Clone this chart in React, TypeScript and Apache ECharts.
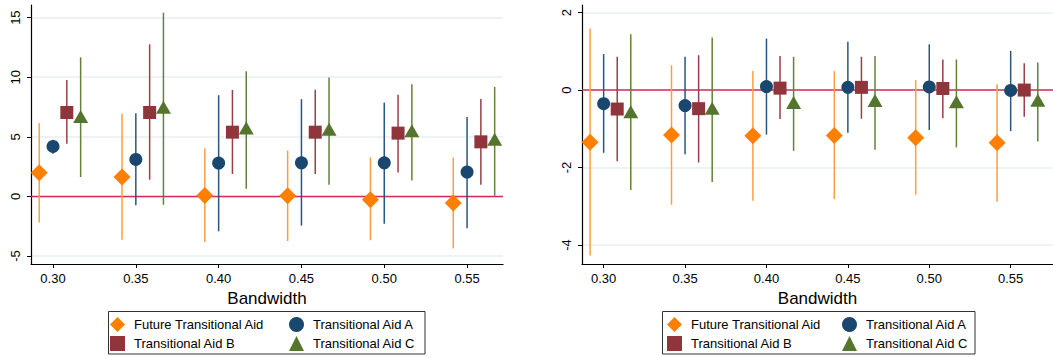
import React, { useEffect, useRef } from "react";
import * as echarts from "echarts";

const bandwidths = [0.3, 0.35, 0.4, 0.45, 0.5, 0.55];
const seriesNames = ["Future Transitional Aid", "Transitional Aid A", "Transitional Aid B", "Transitional Aid C"];
const xTicks = [0.3, 0.35, 0.4, 0.45, 0.5, 0.55];
const leftYTicks = [-5, 0, 5, 10, 15];
const rightYTicks = [-4, -2, 0, 2];

// Left panel
const L_future_est = [1.98, 1.62, 0.08, 0.06, -0.28, -0.55];
const L_future_lo = [-2.18, -3.63, -3.82, -3.74, -3.68, -4.36];
const L_future_hi = [6.15, 6.93, 4.05, 3.85, 3.27, 3.27];
const L_A_est = [4.19, 3.1, 2.8, 2.82, 2.82, 2.04];
const L_A_lo = [3.58, -0.75, -2.93, -2.45, -2.29, -2.68];
const L_A_hi = [4.75, 6.98, 8.49, 8.16, 7.87, 6.67];
const L_B_est = [7.04, 7.04, 5.39, 5.39, 5.31, 4.58];
const L_B_lo = [4.41, 1.4, 1.88, 1.88, 2.01, 0.98];
const L_B_hi = [9.77, 12.76, 8.94, 8.94, 8.52, 8.18];
const L_C_est = [6.7, 7.49, 5.73, 5.64, 5.5, 4.8];
const L_C_lo = [1.62, -0.7, 0.64, 0.98, 1.34, 0.06];
const L_C_hi = [11.67, 15.41, 10.5, 9.97, 9.41, 9.19];

// Right panel
const R_future_est = [-1.35, -1.16, -1.18, -1.17, -1.23, -1.36];
const R_future_lo = [-4.27, -2.96, -2.86, -2.81, -2.7, -2.88];
const R_future_hi = [1.59, 0.64, 0.49, 0.49, 0.26, 0.15];
const R_A_est = [-0.35, -0.4, 0.09, 0.07, 0.08, -0.01];
const R_A_lo = [-1.62, -1.66, -1.15, -1.1, -1.03, -1.06];
const R_A_hi = [0.93, 0.86, 1.33, 1.25, 1.18, 1.01];
const R_B_est = [-0.49, -0.48, 0.05, 0.07, 0.04, 0.0];
const R_B_lo = [-1.84, -1.87, -0.75, -0.74, -0.73, -0.69];
const R_B_hi = [0.86, 0.9, 0.88, 0.86, 0.79, 0.69];
const R_C_est = [-0.56, -0.47, -0.32, -0.27, -0.3, -0.26];
const R_C_lo = [-2.58, -2.37, -1.57, -1.54, -1.48, -1.33];
const R_C_hi = [1.44, 1.36, 0.86, 0.88, 0.79, 0.71];

const FONT = "'Liberation Sans', Arial, Helvetica, sans-serif";
const markerColors = ["#ff7f00", "#1a476f", "#90353b", "#55752f"];
const ciColors = ["#ff9d3f", "#2a5680", "#9a3f46", "#62823a"];
const symbols = ["diamond", "circle", "rect", "triangle"];
const symbolSizes: any[] = [17, 13, 13, [15, 13]];
const offsets = [-1 / 120, 0, 1 / 120, 2 / 120];

function buildPanel(gridIndex: number, est: number[][], lo: number[][], hi: number[][]) {
  const out: any[] = [];
  // zero reference line
  out.push({
    type: "custom",
    xAxisIndex: gridIndex,
    yAxisIndex: gridIndex,
    silent: true,
    z: 1,
    data: [[0]],
    renderItem: (params: any, api: any) => {
      const cs = params.coordSys;
      const y = api.coord([bandwidths[0], 0])[1];
      return {
        type: "line",
        shape: { x1: cs.x, y1: y, x2: cs.x + cs.width, y2: y },
        style: { stroke: "#d42d57", lineWidth: 1.5 },
      };
    },
  });
  for (let s = 0; s < 4; s++) {
    const color = ciColors[s];
    out.push({
      type: "custom",
      xAxisIndex: gridIndex,
      yAxisIndex: gridIndex,
      silent: true,
      z: 2,
      encode: { x: 0, y: [1, 2] },
      data: bandwidths.map((b, i) => [b + offsets[s], lo[s][i], hi[s][i]]),
      renderItem: (params: any, api: any) => {
        const x = api.value(0);
        const p1 = api.coord([x, api.value(1)]);
        const p2 = api.coord([x, api.value(2)]);
        return {
          type: "line",
          shape: { x1: p1[0], y1: p1[1], x2: p2[0], y2: p2[1] },
          style: { stroke: color, lineWidth: 1.5 },
        };
      },
    });
  }
  for (let s = 0; s < 4; s++) {
    out.push({
      type: "scatter",
      name: seriesNames[s],
      xAxisIndex: gridIndex,
      yAxisIndex: gridIndex,
      z: 3,
      symbol: symbols[s],
      symbolSize: symbolSizes[s],
      itemStyle: { color: markerColors[s], opacity: 1 },
      data: bandwidths.map((b, i) => [b + offsets[s], est[s][i]]),
    });
  }
  return out;
}

function xAxisDef(gridIndex: number, min: number, max: number) {
  return {
    type: "value",
    gridIndex,
    min,
    max,
    name: "Bandwidth",
    nameLocation: "middle",
    nameGap: 21,
    nameTextStyle: { fontFamily: FONT, fontSize: 17, color: "#000" },
    axisLine: { show: true, onZero: false, lineStyle: { color: "#000", width: 1.2 } },
    axisTick: { show: true, length: 4, customValues: xTicks, lineStyle: { color: "#000" } },
    axisLabel: {
      customValues: xTicks,
      margin: 8,
      fontFamily: FONT,
      fontSize: 13,
      color: "#000",
      formatter: (v: number) => v.toFixed(2),
    },
    splitLine: { show: false },
  };
}

function yAxisDef(gridIndex: number, min: number, max: number, ticks: number[]) {
  return {
    type: "value",
    gridIndex,
    min,
    max,
    axisLine: { show: true, onZero: false, lineStyle: { color: "#000", width: 1.2 } },
    axisTick: { show: true, length: 4, customValues: ticks, lineStyle: { color: "#000" } },
    axisLabel: {
      customValues: ticks,
      rotate: 90,
      margin: 9,
      fontFamily: FONT,
      fontSize: 13,
      color: "#000",
    },
    splitLine: { show: true, lineStyle: { color: "#e6eff1", width: 1.5 } },
  };
}

function legendDef(left: number, data: string[]) {
  return {
    left,
    top: 317,
    orient: "vertical",
    padding: 0,
    itemWidth: 15,
    itemHeight: 15,
    itemGap: 4,
    selectedMode: false,
    data,
    textStyle: { fontFamily: FONT, fontSize: 13, color: "#000", padding: [0, 0, 0, 4] },
  };
}

export default function App() {
  const ref = useRef<HTMLDivElement>(null);
  useEffect(() => {
    if (!ref.current) return;
    const chart = echarts.init(ref.current, undefined, { renderer: "svg" });
    const option: any = {
      animation: false,
      backgroundColor: "#fff",
      grid: [
        { left: 31, top: 5, width: 472, height: 259 },
        { left: 582, top: 5, width: 471, height: 259 },
      ],
      xAxis: [xAxisDef(0, 0.2867, 0.5717), xAxisDef(1, 0.2867, 0.576)],
      yAxis: [yAxisDef(0, -5.67, 16.06, leftYTicks), yAxisDef(1, -4.49, 2.196, rightYTicks)],
      legend: [
        legendDef(110, [seriesNames[0], seriesNames[2]]),
        legendDef(289, [seriesNames[1], seriesNames[3]]),
        legendDef(667, [seriesNames[0], seriesNames[2]]),
        legendDef(842, [seriesNames[1], seriesNames[3]]),
      ],
      graphic: [
        {
          type: "rect",
          shape: { x: 108.5, y: 311.5, width: 316.5, height: 42.5 },
          style: { fill: "none", stroke: "#333", lineWidth: 1 },
          silent: true,
        },
        {
          type: "rect",
          shape: { x: 662.5, y: 311.5, width: 312.5, height: 42.5 },
          style: { fill: "none", stroke: "#333", lineWidth: 1 },
          silent: true,
        },
      ],
      series: [
        ...buildPanel(
          0,
          [L_future_est, L_A_est, L_B_est, L_C_est],
          [L_future_lo, L_A_lo, L_B_lo, L_C_lo],
          [L_future_hi, L_A_hi, L_B_hi, L_C_hi]
        ),
        ...buildPanel(
          1,
          [R_future_est, R_A_est, R_B_est, R_C_est],
          [R_future_lo, R_A_lo, R_B_lo, R_C_lo],
          [R_future_hi, R_A_hi, R_B_hi, R_C_hi]
        ),
      ],
    };
    chart.setOption(option);
    return () => chart.dispose();
  }, []);
  return (
    <div
      ref={ref}
      style={{ position: "absolute", left: 0, top: 0, width: 1053, height: 358 }}
    />
  );
}
